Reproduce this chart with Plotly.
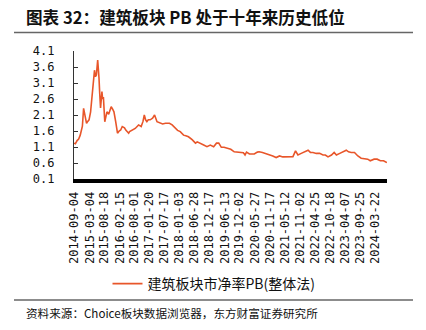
import plotly.graph_objects as go

# ---- data ----
dates = [
    "2014-09-04", "2014-09-20", "2014-10-10", "2014-10-28", "2014-11-15", "2014-11-28",
    "2014-12-10", "2014-12-24", "2015-01-05", "2015-01-15", "2015-01-27", "2015-02-10",
    "2015-02-25", "2015-03-15", "2015-04-03", "2015-04-18", "2015-04-29", "2015-05-10",
    "2015-05-21", "2015-06-05", "2015-06-12", "2015-06-20", "2015-06-28", "2015-07-08",
    "2015-07-24", "2015-08-01", "2015-08-10", "2015-08-26", "2015-09-08", "2015-09-20",
    "2015-10-10", "2015-10-25", "2015-11-08", "2015-11-25", "2015-12-10", "2015-12-30",
    "2016-01-10", "2016-01-20", "2016-02-08", "2016-02-26", "2016-03-15", "2016-04-10",
    "2016-04-25", "2016-05-10", "2016-05-28", "2016-06-08", "2016-07-05", "2016-08-12",
    "2016-09-20", "2016-10-20", "2016-11-10", "2016-11-25", "2016-12-10", "2016-12-25",
    "2017-01-10", "2017-02-01", "2017-03-01", "2017-03-24", "2017-04-21", "2017-05-31",
    "2017-06-25", "2017-07-28", "2017-09-12", "2017-10-13", "2017-11-20", "2017-12-15",
    "2018-01-15", "2018-02-22", "2018-03-20", "2018-04-20", "2018-06-01", "2018-07-10",
    "2018-07-30", "2018-09-05", "2018-10-13", "2018-11-20", "2018-12-28", "2019-02-05",
    "2019-03-10", "2019-04-05", "2019-05-05", "2019-06-05", "2019-07-15", "2019-08-22",
    "2019-10-01", "2019-11-08", "2019-12-14", "2020-01-15", "2020-02-03", "2020-02-20",
    "2020-03-25", "2020-05-20", "2020-06-25", "2020-07-15", "2020-08-23", "2020-10-01",
    "2020-11-08", "2020-12-20", "2021-01-28", "2021-03-08", "2021-04-15", "2021-05-24",
    "2021-07-01", "2021-08-10", "2021-09-09", "2021-10-07", "2021-11-14", "2021-12-23",
    "2022-02-01", "2022-02-28", "2022-03-30", "2022-05-07", "2022-06-15", "2022-07-24",
    "2022-08-20", "2022-09-20", "2022-10-30", "2022-11-30", "2022-12-26", "2023-02-03",
    "2023-03-14", "2023-04-19", "2023-05-15", "2023-06-15", "2023-07-23", "2023-08-31",
    "2023-10-08", "2023-11-15", "2023-12-23", "2024-01-21", "2024-03-06", "2024-04-10",
    "2024-05-17", "2024-06-23", "2024-07-31",
]
pb_values = [
    1.22, 1.20, 1.30, 1.35, 1.47, 1.60,
    1.75, 2.31, 2.10, 2.00, 1.84, 1.90,
    1.95, 2.20, 2.72, 3.10, 3.50, 3.30,
    3.35, 3.82, 3.60, 3.26, 2.80, 2.32,
    2.83, 2.60, 2.66, 1.89, 2.05, 2.20,
    2.12, 2.25, 2.36, 2.28, 2.20, 1.89,
    1.70, 1.53, 1.60, 1.63, 1.74, 1.70,
    1.63, 1.58, 1.53, 1.58, 1.63, 1.68,
    1.79, 1.74, 1.90, 2.10, 1.95, 1.89,
    1.95, 1.95, 2.00, 2.10, 1.89, 1.84,
    1.82, 1.84, 1.84, 1.79, 1.68, 1.62,
    1.58, 1.47, 1.45, 1.42, 1.33, 1.22,
    1.26, 1.22, 1.16, 1.11, 1.16, 1.11,
    1.22, 1.22, 1.09, 1.09, 1.06, 1.03,
    0.95, 0.94, 0.94, 0.92, 0.85, 0.94,
    0.88, 0.88, 0.94, 0.95, 0.93, 0.90,
    0.87, 0.82, 0.77, 0.82, 0.79, 0.79,
    0.79, 0.80, 0.98, 0.85, 0.90, 0.95,
    1.00, 0.93, 0.93, 0.90, 0.90, 0.85,
    0.85, 0.79, 0.85, 0.93, 0.85, 0.90,
    0.95, 1.00, 0.95, 0.93, 0.93, 0.82,
    0.75, 0.73, 0.72, 0.67, 0.72, 0.72,
    0.67, 0.67, 0.61,
]
x_tick_labels = [
    "2014-09-04", "2015-03-04", "2015-08-18", "2016-02-15", "2016-08-01",
    "2017-01-20", "2017-07-17", "2018-01-03", "2018-06-28", "2018-12-17",
    "2019-06-13", "2019-12-02", "2020-05-27", "2020-11-17", "2021-05-12",
    "2021-11-02", "2022-04-25", "2022-10-18", "2023-04-07", "2023-09-25",
    "2024-03-22",
]
y_ticks = [0.1, 0.6, 1.1, 1.6, 2.1, 2.6, 3.1, 3.6, 4.1]
series_name = "建筑板块市净率PB(整体法)"
title_text = "图表 32：建筑板块 PB 处于十年来历史低位"
source_text = "资料来源：Choice板块数据浏览器，东方财富证券研究所"

# ---- layout geometry (pixels) ----
W, H = 426, 330
L, R, T, B = 74, 39, 51, 151
pw, ph = W - L - R, H - T - B


def px_x(px):
    return (px - L) / pw


def px_y(py):
    return (H - B - py) / ph


CJK = "Noto Sans CJK SC"
MONO = "DejaVu Sans Mono"
LINE_COLOR = "#E8562A"

fig = go.Figure()
fig.add_trace(go.Scatter(
    x=dates, y=pb_values, mode="lines", name=series_name,
    line=dict(color=LINE_COLOR, width=1.6),
))

fig.update_layout(
    width=W, height=H,
    margin=dict(l=L, r=R, t=T, b=B),
    paper_bgcolor="white", plot_bgcolor="white",
    showlegend=True,
    legend=dict(
        orientation="h", x=px_x(214), xanchor="center",
        y=px_y(284), yanchor="middle",
        font=dict(family=CJK, size=14, color="#111111"),
        itemwidth=30, bgcolor="rgba(0,0,0,0)",
    ),
    xaxis=dict(
        type="date", range=["2014-09-04", "2024-08-02"],
        tickvals=x_tick_labels, ticktext=x_tick_labels,
        tickangle=-90, ticks="", showgrid=False, zeroline=False,
        showline=True, linecolor="black", linewidth=4,
        tickfont=dict(family=MONO, size=12, color="#111111"),
        ticklabelstandoff=4,
    ),
    yaxis=dict(
        range=[0.1, 4.1], tickvals=y_ticks,
        ticktext=[f"{v:.1f}" for v in y_ticks],
        ticks="inside", ticklen=4, tickcolor="#333333", tickwidth=1,
        showgrid=False, zeroline=False,
        showline=True, linecolor="#333333", linewidth=1.2,
        tickfont=dict(family=MONO, size=12, color="#111111"),
        ticklabelstandoff=16,
    ),
)

# title, separators and source note
fig.add_annotation(
    text=f"<b>{title_text}</b>", xref="paper", yref="paper",
    x=px_x(24), y=px_y(17), xanchor="left", yanchor="middle",
    showarrow=False, font=dict(family=CJK, size=16.6, color="#111111"),
)
fig.add_shape(type="line", xref="paper", yref="paper",
              x0=px_x(14), x1=px_x(413), y0=px_y(32.5), y1=px_y(32.5),
              line=dict(color="#666666", width=1.5))
fig.add_shape(type="line", xref="paper", yref="paper",
              x0=px_x(14), x1=px_x(413), y0=px_y(300), y1=px_y(300),
              line=dict(color="#666666", width=1.5))
fig.add_annotation(
    text=source_text, xref="paper", yref="paper",
    x=px_x(24), y=px_y(313), xanchor="left", yanchor="middle",
    showarrow=False, font=dict(family=CJK, size=11.6, color="#111111"),
)

fig.write_html("out.html")
